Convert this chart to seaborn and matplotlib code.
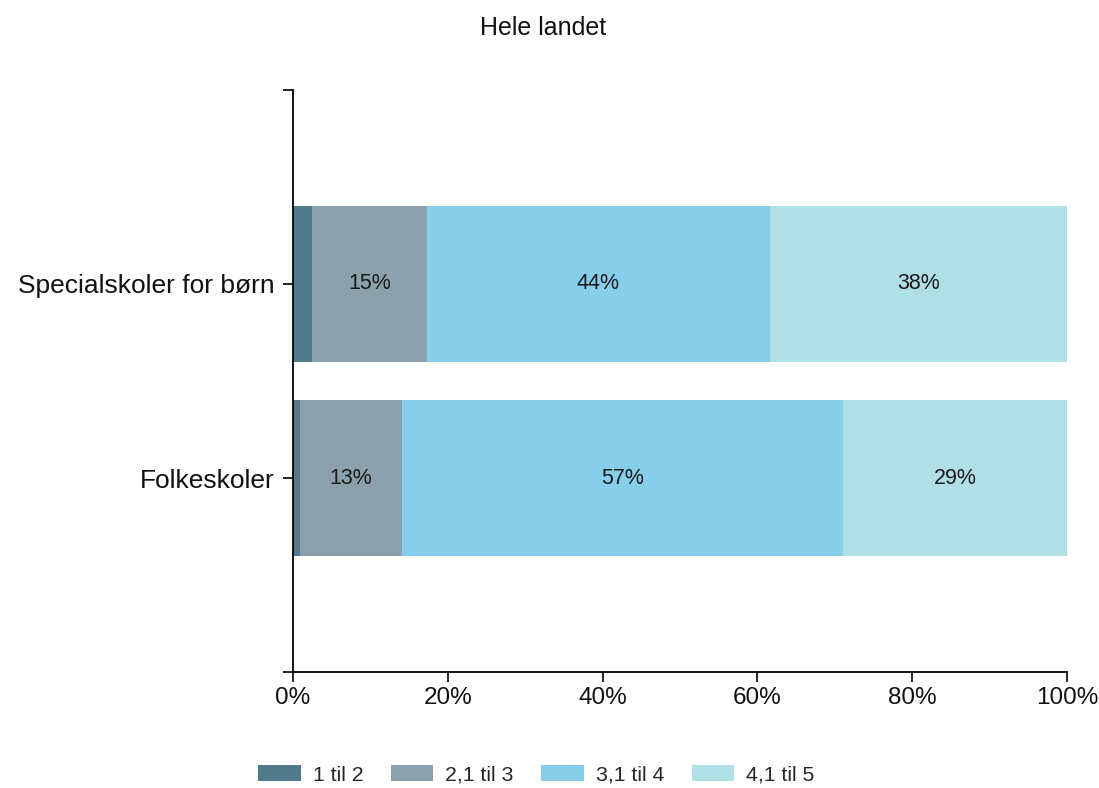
import numpy as np
import pandas as pd
import matplotlib
matplotlib.use("Agg")
import matplotlib.pyplot as plt
import seaborn as sns
from matplotlib.patches import Patch
from matplotlib.ticker import FuncFormatter

categories = ["Specialskoler for børn", "Folkeskoler"]
series_names = ["1 til 2", "2,1 til 3", "3,1 til 4", "4,1 til 5"]
v_1til2 = [2.5, 0.9]
v_2til3 = [14.8, 13.2]
v_3til4 = [44.3, 56.9]
v_4til5 = [38.4, 29.0]
xtick_values = [0, 20, 40, 60, 80, 100]
title = "Hele landet"

colors = ["#537a8c", "#8ba2ad", "#87ceeb", "#b0dfe5"]

sns.set_theme(style="white")
plt.rcParams["font.family"] = ["Liberation Sans", "DejaVu Sans"]

series = [v_1til2, v_2til3, v_3til4, v_4til5]
vals = np.array(series)            # shape (4, n_cat)
cum = np.cumsum(vals, axis=0)

fig = plt.figure(figsize=(10.99, 7.88), dpi=100)
ax = fig.add_axes([0.2666, 0.147, 0.7044, 0.739])

# draw cumulative bars from largest to smallest so they stack visually
for i in range(len(series) - 1, -1, -1):
    df = pd.DataFrame({"cat": categories, "val": cum[i]})
    sns.barplot(data=df, x="val", y="cat", orient="h", color=colors[i],
                width=0.8, saturation=1, ax=ax, edgecolor="none", linewidth=0)

# labels on segments 2..4
for i in range(1, len(series)):
    for j in range(len(categories)):
        start = cum[i - 1][j]
        v = vals[i][j]
        ax.text(start + v / 2, j, f"{v:.0f}%", ha="center", va="center",
                fontsize=15.5, color="#1a1a1a")

ax.set_xlim(0, 100)
ax.set_ylim(2, -1)
ax.set_xticks(xtick_values)
ax.xaxis.set_major_formatter(FuncFormatter(lambda x, p: f"{x:.0f}%"))
ax.set_yticks([-1, 0, 1, 2])
ax.set_yticklabels(["", categories[0], categories[1], ""])
ax.set_xlabel("")
ax.set_ylabel("")
for s in ["top", "right"]:
    ax.spines[s].set_visible(False)
for s in ["left", "bottom"]:
    ax.spines[s].set_color("black")
    ax.spines[s].set_linewidth(1.3)
ax.tick_params(axis="both", which="both", direction="out", length=7, width=1.2,
               color="black", labelcolor="#111111")
ax.tick_params(axis="x", bottom=True, labelsize=17.5, pad=4)
ax.tick_params(axis="y", left=True, labelsize=19, pad=6)

fig.text(0.4945, 0.9645, title, ha="center", va="center", fontsize=18, color="#111111")

handles = [Patch(facecolor=c, edgecolor="none") for c in colors]
fig.legend(handles, series_names, loc="center", bbox_to_anchor=(0.488, 0.0165),
           ncol=4, frameon=False, fontsize=15.3, handlelength=2.0, handleheight=0.75,
           columnspacing=1.3, handletextpad=0.56)

fig.savefig("out.png", dpi=100)
